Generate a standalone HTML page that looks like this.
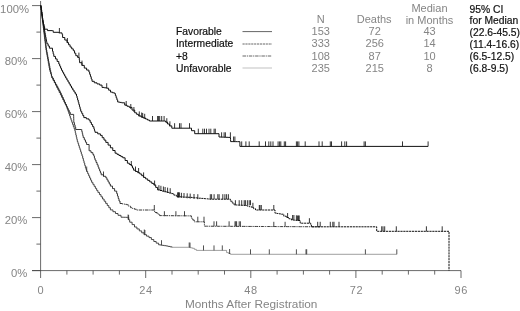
<!DOCTYPE html>
<html><head><meta charset="utf-8"><title>Survival</title>
<style>
html,body{margin:0;padding:0;background:#fff;}
body{width:520px;height:311px;overflow:hidden;position:relative;font-family:"Liberation Sans",sans-serif;}
svg{position:absolute;left:0;top:0;}
.g{fill:#858585;font-size:11px;}
.k{fill:#111;font-size:10.3px;stroke:#111;stroke-width:0.2px;}
</style></head><body>
<svg width="520" height="311" viewBox="0 0 520 311" font-family="Liberation Sans, sans-serif">
<rect width="520" height="311" fill="#fff"/>
<path d="M40.6,1 V270.6 M32,270.6 H461 M32,270.6 H40.6 M36.4,244.1 H40.6 M32,217.6 H40.6 M36.4,191.1 H40.6 M32,164.6 H40.6 M36.4,138.1 H40.6 M32,111.6 H40.6 M36.4,85.1 H40.6 M32,58.6 H40.6 M36.4,32.1 H40.6 M32,5.6 H40.6 M40.6,270.6 V278 M66.9,270.6 V274.6 M93.1,270.6 V274.6 M119.4,270.6 V274.6 M145.7,270.6 V278 M172.0,270.6 V274.6 M198.2,270.6 V274.6 M224.5,270.6 V274.6 M250.8,270.6 V278 M277.1,270.6 V274.6 M303.4,270.6 V274.6 M329.6,270.6 V274.6 M355.9,270.6 V278 M382.2,270.6 V274.6 M408.4,270.6 V274.6 M434.7,270.6 V274.6 M461.0,270.6 V278" stroke="#444" stroke-width="0.8" fill="none"/>
<path d="M40.70,5.60 L40.95,5.60 L40.95,7.82 L41.21,7.82 L41.21,10.04 L41.46,10.04 L41.46,12.25 L41.72,12.25 L41.72,14.47 L41.97,14.47 L41.97,16.69 L42.23,16.69 L42.23,18.91 L42.48,18.91 L42.48,21.13 L42.74,21.13 L42.74,23.35 L42.99,23.35 L42.99,25.56 L43.25,25.56 L43.25,27.78 L43.50,27.78 L43.50,30.00 L43.78,30.00 L43.78,32.22 L44.06,32.22 L44.06,34.44 L44.33,34.44 L44.33,36.67 L44.61,36.67 L44.61,38.89 L44.89,38.89 L44.89,41.11 L45.17,41.11 L45.17,43.33 L45.44,43.33 L45.44,45.56 L45.72,45.56 L45.72,47.78 L46.00,47.78 L46.00,50.00 L46.39,50.00 L46.39,52.22 L46.78,52.22 L46.78,54.44 L47.17,54.44 L47.17,56.67 L47.56,56.67 L47.56,58.89 L47.94,58.89 L47.94,61.11 L48.33,61.11 L48.33,63.33 L48.72,63.33 L48.72,65.56 L49.11,65.56 L49.11,67.78 L49.50,67.78 L49.50,70.00 L50.12,70.00 L50.12,72.00 L50.75,72.00 L50.75,74.00 L51.38,74.00 L51.38,76.00 L52.00,76.00 L52.00,78.00 L53.17,78.00 L53.17,80.14 L54.34,80.14 L54.34,82.29 L55.51,82.29 L55.51,84.43 L56.69,84.43 L56.69,86.57 L57.86,86.57 L57.86,88.71 L59.03,88.71 L59.03,90.86 L60.20,90.86 L60.20,93.00 L61.25,93.00 L61.25,95.32 L62.30,95.32 L62.30,97.63 L63.35,97.63 L63.35,99.95 L64.40,99.95 L64.40,102.27 L65.45,102.27 L65.45,104.58 L66.50,104.58 L66.50,106.90 L67.26,106.90 L67.26,109.14 L68.02,109.14 L68.02,111.38 L68.78,111.38 L68.78,113.62 L69.54,113.62 L69.54,115.86 L70.30,115.86 L70.30,118.10 L71.05,118.10 L71.05,120.20 L71.80,120.20 L71.80,122.30 L72.55,122.30 L72.55,124.40 L73.30,124.40 L73.30,126.50 L74.05,126.50 L74.05,128.60 L74.80,128.60 L74.80,130.70 L75.30,130.70 L75.30,132.86 L75.80,132.86 L75.80,135.02 L76.30,135.02 L76.30,137.18 L76.80,137.18 L76.80,139.34 L77.30,139.34 L77.30,141.50 L77.97,141.50 L77.97,143.57 L78.64,143.57 L78.64,145.64 L79.31,145.64 L79.31,147.71 L79.99,147.71 L79.99,149.79 L80.66,149.79 L80.66,151.86 L81.33,151.86 L81.33,153.93 L82.00,153.93 L82.00,156.00 L82.68,156.00 L82.68,158.36 L83.36,158.36 L83.36,160.72 L84.04,160.72 L84.04,163.08 L84.72,163.08 L84.72,165.44 L85.40,165.44 L85.40,167.80 L86.05,167.80 L86.05,169.65 L86.70,169.65 L86.70,171.50 L87.68,171.50 L87.68,173.66 L88.66,173.66 L88.66,175.82 L89.64,175.82 L89.64,177.98 L90.62,177.98 L90.62,180.14 L91.60,180.14 L91.60,182.30 L92.86,182.30 L92.86,184.32 L94.12,184.32 L94.12,186.34 L95.38,186.34 L95.38,188.36 L96.64,188.36 L96.64,190.38 L97.90,190.38 L97.90,192.40 L99.45,192.40 L99.45,194.60 L101.00,194.60 L101.00,196.80 L102.55,196.80 L102.55,199.00 L104.10,199.00 L104.10,201.20 L105.67,201.20 L105.67,203.38 L107.25,203.38 L107.25,205.55 L108.83,205.55 L108.83,207.72 L110.40,207.72 L110.40,209.90 L112.93,209.90 L112.93,211.70 L115.47,211.70 L115.47,213.50 L118.00,213.50 L118.00,215.30 L121.00,215.30 L121.00,217.20 L123.23,217.20 L123.23,217.27 L125.47,217.27 L125.47,217.33 L127.70,217.33 L127.70,217.40 L128.70,217.40 L128.70,219.80 L129.70,219.80 L129.70,222.20 L132.10,222.20 L132.10,224.60 L134.50,224.60 L134.50,227.00 L136.90,227.00 L136.90,228.95 L139.30,228.95 L139.30,230.90 L141.70,230.90 L141.70,232.80 L144.10,232.80 L144.10,234.70 L146.55,234.70 L146.55,236.15 L149.00,236.15 L149.00,237.60 L151.40,237.60 L151.40,239.55 L153.80,239.55 L153.80,241.50 L156.20,241.50 L156.20,243.15 L158.60,243.15 L158.60,244.80 L160.53,244.80 L160.53,245.10 L162.45,245.10 L162.45,245.40 L164.38,245.40 L164.38,245.70 L166.30,245.70 L166.30,246.00 L168.23,246.00 L168.23,246.43 L170.17,246.43 L170.17,246.87 L172.10,246.87 L172.10,247.30" stroke="#333" stroke-width="0.9" fill="none"/>
<path d="M172.10,247.30 L188.50,247.30 L190.45,247.30 L190.45,247.80 L192.40,247.80 L192.40,248.30 L194.35,248.30 L194.35,249.35 L196.30,249.35 L196.30,250.40 L224.00,250.40 L226.60,250.40 L226.60,252.60 L228.50,252.60 L228.50,253.45 L230.40,253.45 L230.40,254.30 L396.80,254.30" stroke="#777" stroke-width="0.7" fill="none"/>
<path d="M86.7,171.5 v-5.0 M128.1,219.5 v-5.0 M128.6,220.0 v-5.0 M144.3,234.5 v-5.0 M144.9,235.0 v-5.0 M161.5,245.2 v-5.0 M189.2,247.5 v-5.0 M190.0,247.6 v-5.0 M203.5,250.4 v-5.0 M214.0,250.4 v-5.0 M222.3,250.4 v-5.0 M229.6,254.0 v-5.0 M250.5,254.3 v-5.0 M269.3,254.3 v-5.0 M296.4,254.3 v-5.0 M306.0,254.3 v-5.0 M306.7,254.3 v-5.0 M365.4,254.3 v-5.0 M396.8,254.3 v-5.0" stroke="#333" stroke-width="0.85" fill="none"/>
<path d="M40.70,5.60 L40.99,5.60 L40.99,7.83 L41.28,7.83 L41.28,10.05 L41.57,10.05 L41.57,12.28 L41.86,12.28 L41.86,14.51 L42.15,14.51 L42.15,16.74 L42.45,16.74 L42.45,18.96 L42.74,18.96 L42.74,21.19 L43.03,21.19 L43.03,23.42 L43.32,23.42 L43.32,25.65 L43.61,25.65 L43.61,27.87 L43.90,27.87 L43.90,30.10 L44.18,30.10 L44.18,32.33 L44.46,32.33 L44.46,34.57 L44.73,34.57 L44.73,36.80 L45.01,36.80 L45.01,39.03 L45.29,39.03 L45.29,41.27 L45.57,41.27 L45.57,43.50 L45.84,43.50 L45.84,45.73 L46.12,45.73 L46.12,47.97 L46.40,47.97 L46.40,50.20 L46.82,50.20 L46.82,52.43 L47.24,52.43 L47.24,54.67 L47.67,54.67 L47.67,56.90 L48.09,56.90 L48.09,59.13 L48.51,59.13 L48.51,61.37 L48.93,61.37 L48.93,63.60 L49.36,63.60 L49.36,65.83 L49.78,65.83 L49.78,68.07 L50.20,68.07 L50.20,70.30 L50.65,70.30 L50.65,72.22 L51.10,72.22 L51.10,74.15 L51.55,74.15 L51.55,76.08 L52.00,76.08 L52.00,78.00 L53.20,78.00 L53.20,80.40 L54.40,80.40 L54.40,82.80 L55.60,82.80 L55.60,85.20 L56.80,85.20 L56.80,87.60 L58.00,87.60 L58.00,90.00 L59.20,90.00 L59.20,92.40 L60.40,92.40 L60.40,94.80 L61.60,94.80 L61.60,97.20 L62.80,97.20 L62.80,99.60 L64.00,99.60 L64.00,102.00 L65.05,102.00 L65.05,104.07 L66.10,104.07 L66.10,106.13 L67.15,106.13 L67.15,108.20 L68.20,108.20 L68.20,110.27 L69.25,110.27 L69.25,112.33 L70.30,112.33 L70.30,114.40 L73.60,114.40 L73.65,114.40 L73.65,116.45 L73.70,116.45 L73.70,118.50 L73.75,118.50 L73.75,120.55 L73.80,120.55 L73.80,122.60 L74.43,122.60 L74.43,124.90 L75.07,124.90 L75.07,127.20 L75.70,127.20 L75.70,129.50 L81.30,129.50 L81.78,129.50 L81.78,131.53 L82.25,131.53 L82.25,133.55 L82.72,133.55 L82.72,135.57 L83.20,135.57 L83.20,137.60 L84.33,137.60 L84.33,139.90 L85.47,139.90 L85.47,142.20 L86.60,142.20 L86.60,144.50 L89.10,144.50 L89.10,150.80 L91.00,150.80 L91.00,152.65 L92.90,152.65 L92.90,154.50 L93.80,154.50 L93.80,156.00 L94.40,156.00 L94.40,158.05 L95.00,158.05 L95.00,160.10 L96.03,160.10 L96.03,162.43 L97.07,162.43 L97.07,164.77 L98.10,164.77 L98.10,167.10 L98.88,167.10 L98.88,169.03 L99.65,169.03 L99.65,170.95 L100.42,170.95 L100.42,172.88 L101.20,172.88 L101.20,174.80 L103.50,174.80 L103.50,176.30 L105.80,176.30 L105.80,177.80 L106.95,177.80 L106.95,179.88 L108.10,179.88 L108.10,181.95 L109.25,181.95 L109.25,184.03 L110.40,184.03 L110.40,186.10 L112.50,186.10 L112.50,188.60 L114.60,188.60 L114.60,191.10 L116.70,191.10 L116.70,193.60 L117.47,193.60 L117.47,196.07 L118.23,196.07 L118.23,198.53 L119.00,198.53 L119.00,201.00 L120.00,201.00 L120.00,203.50" stroke="#222" stroke-width="0.9" fill="none"/>
<path d="M120.00,203.50 L122.27,203.50 L122.27,203.93 L124.53,203.93 L124.53,204.37 L126.80,204.37 L126.80,204.80 L128.70,204.80 L128.70,206.25 L130.60,206.25 L130.60,207.70 L132.53,207.70 L132.53,208.47 L134.47,208.47 L134.47,209.23 L136.40,209.23 L136.40,210.00 L154.70,210.00 L154.70,212.50 L157.15,212.50 L157.15,214.05 L159.60,214.05 L159.60,215.60 L161.86,215.60 L161.86,215.62 L164.11,215.62 L164.11,215.64 L166.37,215.64 L166.37,215.66 L168.63,215.66 L168.63,215.69 L170.89,215.69 L170.89,215.71 L173.14,215.71 L173.14,215.73 L175.40,215.73 L175.40,215.75 L177.66,215.75 L177.66,215.77 L179.91,215.77 L179.91,215.79 L182.17,215.79 L182.17,215.81 L184.43,215.81 L184.43,215.84 L186.69,215.84 L186.69,215.86 L188.94,215.86 L188.94,215.88 L191.20,215.88 L191.20,215.90 L191.40,215.90 L191.40,218.30 L192.85,218.30 L192.85,220.05 L194.30,220.05 L194.30,221.80 L204.40,221.80 L204.40,226.20 L206.58,226.20 L206.58,226.21 L208.76,226.21 L208.76,226.22 L210.94,226.22 L210.94,226.23 L213.12,226.23 L213.12,226.25 L215.31,226.25 L215.31,226.26 L217.49,226.26 L217.49,226.27 L219.67,226.27 L219.67,226.28 L221.85,226.28 L221.85,226.29 L224.03,226.29 L224.03,226.30 L226.21,226.30 L226.21,226.31 L228.39,226.31 L228.39,226.32 L230.57,226.32 L230.57,226.34 L232.75,226.34 L232.75,226.35 L234.94,226.35 L234.94,226.36 L237.12,226.36 L237.12,226.37 L239.30,226.37 L239.30,226.38 L241.48,226.38 L241.48,226.39 L243.66,226.39 L243.66,226.40 L245.84,226.40 L245.84,226.42 L248.02,226.42 L248.02,226.43 L250.20,226.43 L250.20,226.44 L252.38,226.44 L252.38,226.45 L254.57,226.45 L254.57,226.46 L256.75,226.46 L256.75,226.47 L258.93,226.47 L258.93,226.48 L261.11,226.48 L261.11,226.49 L263.29,226.49 L263.29,226.51 L265.47,226.51 L265.47,226.52 L267.65,226.52 L267.65,226.53 L269.83,226.53 L269.83,226.54 L272.02,226.54 L272.02,226.55 L274.20,226.55 L274.20,226.56 L276.38,226.56 L276.38,226.57 L278.56,226.57 L278.56,226.58 L280.74,226.58 L280.74,226.60 L282.92,226.60 L282.92,226.61 L285.10,226.61 L285.10,226.62 L287.28,226.62 L287.28,226.63 L289.46,226.63 L289.46,226.64 L291.65,226.64 L291.65,226.65 L293.83,226.65 L293.83,226.66 L296.01,226.66 L296.01,226.68 L298.19,226.68 L298.19,226.69 L300.37,226.69 L300.37,226.70 L302.55,226.70 L302.55,226.71 L304.73,226.71 L304.73,226.72 L306.91,226.72 L306.91,226.73 L309.09,226.73 L309.09,226.74 L311.28,226.74 L311.28,226.75 L313.46,226.75 L313.46,226.77 L315.64,226.77 L315.64,226.78 L317.82,226.78 L317.82,226.79 L320.00,226.79 L320.00,226.80" stroke="#222" stroke-width="0.9" fill="none" stroke-dasharray="3.5 0.8 1.2 0.8"/>
<path d="M103.5,176.5 v-5.0 M154.3,210.0 v-5.0 M164.4,216.2 v-5.0 M175.9,216.2 v-5.0 M184.5,216.2 v-5.0 M197.8,221.7 v-5.0 M204.0,221.7 v-5.0 M214.0,226.3 v-5.0 M216.6,226.3 v-5.0 M229.1,226.3 v-5.0 M235.0,226.3 v-5.0 M235.8,226.3 v-5.0 M236.6,226.3 v-5.0 M239.2,226.3 v-5.0 M240.4,226.3 v-5.0 M273.8,226.8 v-5.0 M285.1,226.8 v-5.0" stroke="#222" stroke-width="0.85" fill="none"/>
<path d="M40.70,5.60 L40.99,5.60 L40.99,7.66 L41.27,7.66 L41.27,9.71 L41.56,9.71 L41.56,11.77 L41.84,11.77 L41.84,13.83 L42.13,13.83 L42.13,15.89 L42.41,15.89 L42.41,17.94 L42.70,17.94 L42.70,20.00 L43.06,20.00 L43.06,22.16 L43.41,22.16 L43.41,24.31 L43.77,24.31 L43.77,26.47 L44.13,26.47 L44.13,28.63 L44.49,28.63 L44.49,30.79 L44.84,30.79 L44.84,32.94 L45.20,32.94 L45.20,35.10 L45.62,35.10 L45.62,37.27 L46.05,37.27 L46.05,39.45 L46.48,39.45 L46.48,41.62 L46.90,41.62 L46.90,43.80 L48.15,43.80 L48.15,46.00 L49.40,46.00 L49.40,48.20 L52.50,48.20 L52.50,51.30 L53.15,51.30 L53.15,53.85 L53.80,53.85 L53.80,56.40 L55.47,56.40 L55.47,58.93 L57.13,58.93 L57.13,61.47 L58.80,61.47 L58.80,64.00 L59.70,64.00 L59.70,66.10 L60.60,66.10 L60.60,68.20 L61.50,68.20 L61.50,70.30 L62.55,70.30 L62.55,72.22 L63.60,72.22 L63.60,74.15 L64.65,74.15 L64.65,76.08 L65.70,76.08 L65.70,78.00 L66.86,78.00 L66.86,80.00 L68.02,80.00 L68.02,82.00 L69.18,82.00 L69.18,84.00 L70.34,84.00 L70.34,86.00 L71.50,86.00 L71.50,88.00 L72.75,88.00 L72.75,90.00 L74.00,90.00 L74.00,92.00 L75.25,92.00 L75.25,94.00 L76.50,94.00 L76.50,96.00 L77.05,96.00 L77.05,98.00 L77.60,98.00 L77.60,100.00 L78.22,100.00 L78.22,102.26 L78.84,102.26 L78.84,104.52 L79.46,104.52 L79.46,106.78 L80.08,106.78 L80.08,109.04 L80.70,109.04 L80.70,111.30 L81.73,111.30 L81.73,113.40 L82.77,113.40 L82.77,115.50 L83.80,115.50 L83.80,117.60 L86.35,117.60 L86.35,118.85 L88.90,118.85 L88.90,120.10 L90.15,120.10 L90.15,122.30 L91.40,122.30 L91.40,124.50 L92.65,124.50 L92.65,126.70 L93.90,126.70 L93.90,128.90 L94.45,128.90 L94.45,130.60 L95.00,130.60 L95.00,132.30 L97.70,132.30 L97.70,133.85 L100.40,133.85 L100.40,135.40 L102.20,135.40 L102.20,137.73 L104.00,137.73 L104.00,140.07 L105.80,140.07 L105.80,142.40 L108.10,142.40 L108.10,145.10 L110.40,145.10 L110.40,147.80 L112.75,147.80 L112.75,150.50 L115.10,150.50 L115.10,153.20 L117.02,153.20 L117.02,154.35 L118.95,154.35 L118.95,155.50 L120.88,155.50 L120.88,156.65 L122.80,156.65 L122.80,157.80 L125.10,157.80 L125.10,160.50 L127.40,160.50 L127.40,163.20 L129.35,163.20 L129.35,164.50 L131.30,164.50 L131.30,165.80 L132.45,165.80 L132.45,168.00 L133.60,168.00 L133.60,170.20 L135.67,170.20 L135.67,171.47 L137.73,171.47 L137.73,172.73 L139.80,172.73 L139.80,174.00 L141.70,174.00 L141.70,175.70 L143.60,175.70 L143.60,177.40 L145.64,177.40 L145.64,178.90 L147.68,178.90 L147.68,180.40 L149.72,180.40 L149.72,181.90 L151.76,181.90 L151.76,183.40 L153.80,183.40 L153.80,184.90 L155.70,184.90 L155.70,187.40 L157.60,187.40 L157.60,189.90" stroke="#111" stroke-width="1" fill="none"/>
<path d="M157.60,189.90 L159.90,189.90 L159.90,190.52 L162.20,190.52 L162.20,191.13 L164.50,191.13 L164.50,191.75 L166.80,191.75 L166.80,192.37 L169.10,192.37 L169.10,192.98 L171.40,192.98 L171.40,193.60 L173.90,193.60 L173.90,195.15 L176.40,195.15 L176.40,196.70 L178.67,196.70 L178.67,196.82 L180.93,196.82 L180.93,196.93 L183.20,196.93 L183.20,197.05 L185.47,197.05 L185.47,197.17 L187.73,197.17 L187.73,197.28 L190.00,197.28 L190.00,197.40 L192.22,197.40 L192.22,197.60 L194.44,197.60 L194.44,197.80 L196.67,197.80 L196.67,198.00 L198.89,198.00 L198.89,198.20 L201.11,198.20 L201.11,198.40 L203.33,198.40 L203.33,198.60 L205.56,198.60 L205.56,198.80 L207.78,198.80 L207.78,199.00 L210.00,199.00 L210.00,199.20 L228.00,199.20 L230.40,199.20 L230.40,201.20 L232.25,201.20 L232.25,203.05 L234.10,203.05 L234.10,204.90 L236.28,204.90 L236.28,205.02 L238.46,205.02 L238.46,205.14 L240.64,205.14 L240.64,205.26 L242.82,205.26 L242.82,205.38 L245.00,205.38 L245.00,205.50 L247.23,205.50 L247.23,206.13 L249.47,206.13 L249.47,206.77 L251.70,206.77 L251.70,207.40 L253.60,207.40 L253.60,208.70 L255.50,208.70 L255.50,210.00 L273.80,210.00 L275.00,210.00 L275.00,213.20 L277.10,213.20 L277.10,213.53 L279.20,213.53 L279.20,213.87 L281.30,213.87 L281.30,214.20 L283.80,214.20 L283.80,216.20 L286.30,216.20 L286.30,217.50 L288.85,217.50 L288.85,218.75 L291.40,218.75 L291.40,220.00 L293.60,220.00 L293.60,220.17 L295.80,220.17 L295.80,220.33 L298.00,220.33 L298.00,220.50 L300.20,220.50 L300.20,223.20 L310.00,223.20 L310.70,223.20 L310.70,225.00 L311.40,225.00 L311.40,226.80 L376.70,226.80 L376.70,231.30 L449.00,231.30 L449.00,270.60" stroke="#111" stroke-width="1" fill="none" stroke-dasharray="2.2 0.7"/>
<path d="M131.3,166.0 v-5.0 M135.5,171.5 v-5.0 M138.6,173.0 v-5.0 M143.6,177.4 v-5.0 M154.6,185.5 v-5.0 M158.9,190.2 v-5.0 M160.9,190.8 v-5.0 M163.4,191.5 v-5.0 M165.1,192.0 v-5.0 M167.6,192.6 v-5.0 M170.2,193.2 v-5.0 M177.7,197.4 v-5.0 M178.2,197.4 v-5.0 M178.7,197.4 v-5.0 M179.4,197.4 v-5.0 M181.4,197.8 v-5.0 M184.0,198.0 v-5.0 M187.2,198.3 v-5.0 M190.2,198.6 v-5.0 M194.0,199.0 v-5.0 M197.8,199.2 v-5.0 M210.3,199.2 v-5.0 M211.6,199.2 v-5.0 M214.1,199.2 v-5.0 M217.8,199.2 v-5.0 M219.1,199.2 v-5.0 M222.8,199.2 v-5.0 M224.9,199.2 v-5.0 M226.6,199.2 v-5.0 M228.4,199.2 v-5.0 M235.4,205.2 v-5.0 M239.2,205.2 v-5.0 M241.7,205.2 v-5.0 M244.2,205.2 v-5.0 M245.4,205.2 v-5.0 M247.4,205.2 v-5.0 M249.2,205.2 v-5.0 M250.5,205.2 v-5.0 M252.9,207.8 v-5.0 M259.3,210.0 v-5.0 M260.0,210.0 v-5.0 M261.3,210.0 v-5.0 M273.8,210.0 v-5.0 M287.6,218.0 v-5.0 M292.6,220.0 v-5.0 M293.9,220.0 v-5.0 M296.4,220.3 v-5.0 M297.6,220.5 v-5.0 M298.4,220.5 v-5.0 M299.2,220.5 v-5.0 M309.4,223.2 v-5.0 M317.7,226.8 v-5.0 M320.2,226.8 v-5.0 M330.3,226.8 v-5.0 M332.8,226.8 v-5.0 M334.0,226.8 v-5.0 M339.0,226.8 v-5.0 M381.7,231.3 v-5.0 M383.0,231.3 v-5.0 M384.7,231.3 v-5.0 M396.3,231.3 v-5.0 M426.4,231.3 v-5.0 M442.2,231.3 v-5.0" stroke="#111" stroke-width="0.85" fill="none"/>
<path d="M40.70,5.60 L41.00,5.60 L41.00,7.73 L41.30,7.73 L41.30,9.87 L41.60,9.87 L41.60,12.00 L41.84,12.00 L41.84,14.00 L42.08,14.00 L42.08,16.00 L42.32,16.00 L42.32,18.00 L42.56,18.00 L42.56,20.00 L42.80,20.00 L42.80,22.00 L43.40,22.00 L43.40,24.40 L44.00,24.40 L44.00,26.80 L44.60,26.80 L44.60,29.20 L47.50,29.20 L47.50,29.40 L47.50,30.60 L52.50,30.60 L53.20,30.60 L53.20,32.30 L58.80,32.30 L58.80,32.90 L62.00,32.90 L62.00,34.40 L62.60,34.40 L62.60,37.50 L64.80,37.50 L64.80,40.05 L67.00,40.05 L67.00,42.60 L68.55,42.60 L68.55,44.80 L70.10,44.80 L70.10,47.00 L71.70,47.00 L71.70,48.85 L73.30,48.85 L73.30,50.70 L74.55,50.70 L74.55,53.20 L75.80,53.20 L75.80,55.70 L77.60,55.70 L77.60,57.40 L79.00,57.40 L79.00,57.60 L79.30,57.60 L79.30,60.15 L79.60,60.15 L79.60,62.70 L81.95,62.70 L81.95,65.40 L84.30,65.40 L84.30,68.10 L86.60,68.10 L86.60,70.05 L88.90,70.05 L88.90,72.00 L89.68,72.00 L89.68,74.33 L90.45,74.33 L90.45,76.65 L91.22,76.65 L91.22,78.97 L92.00,78.97 L92.00,81.30 L94.30,81.30 L94.30,82.80 L97.00,82.80 L97.00,83.95 L99.70,83.95 L99.70,85.10 L102.00,85.10 L102.00,87.40 L104.35,87.40 L104.35,87.80 L106.70,87.80 L106.70,88.20 L108.60,88.20 L108.60,90.15 L110.50,90.15 L110.50,92.10 L112.55,92.10 L112.55,92.80 L114.60,92.80 L114.60,93.50 L115.38,93.50 L115.38,95.62 L116.15,95.62 L116.15,97.75 L116.92,97.75 L116.92,99.88 L117.70,99.88 L117.70,102.00 L119.65,102.00 L119.65,102.40 L121.60,102.40 L121.60,102.80 L124.70,102.80 L124.70,105.10 L127.00,105.10 L127.00,106.25 L129.30,106.25 L129.30,107.40 L132.00,107.40 L132.00,110.10 L134.70,110.10 L134.70,112.80 L136.65,112.80 L136.65,114.35 L138.60,114.35 L138.60,115.90 L140.90,115.90 L140.90,116.93 L143.20,116.93 L143.20,117.97 L145.50,117.97 L145.50,119.00 L147.45,119.00 L147.45,120.00 L149.40,120.00 L149.40,121.00 L164.80,121.00 L165.60,121.00 L165.60,122.10 L167.55,122.10 L167.55,124.00 L169.50,124.00 L169.50,125.90 L171.80,125.90 L171.80,128.20 L190.20,128.20 L191.50,128.20 L191.50,130.70 L194.70,130.70 L194.70,133.70 L219.00,133.70 L219.00,137.00 L221.28,137.00 L221.28,137.10 L223.56,137.10 L223.56,137.20 L225.84,137.20 L225.84,137.30 L228.12,137.30 L228.12,137.40 L230.40,137.40 L230.40,137.50 L230.50,137.50 L230.50,139.55 L230.60,139.55 L230.60,141.60 L232.93,141.60 L232.93,141.62 L235.25,141.62 L235.25,141.65 L237.57,141.65 L237.57,141.67 L239.90,141.67 L239.90,141.70 L239.90,146.40 L428.10,146.40" stroke="#111" stroke-width="1" fill="none"/>
<path d="M59.4,33.0 v-5.0 M67.4,43.0 v-5.0 M78.9,57.6 v-5.0 M82.0,65.6 v-5.0 M106.7,88.2 v-5.0 M126.2,106.0 v-5.0 M130.8,109.0 v-5.0 M133.9,112.0 v-5.0 M139.3,116.4 v-5.0 M141.7,117.5 v-5.0 M142.7,118.0 v-5.0 M144.7,118.8 v-5.0 M152.5,121.0 v-5.0 M157.6,121.0 v-5.0 M158.6,121.0 v-5.0 M159.7,121.0 v-5.0 M161.7,121.0 v-5.0 M164.1,121.0 v-5.0 M166.8,123.2 v-5.0 M169.9,126.3 v-5.0 M174.6,128.2 v-5.0 M179.5,128.2 v-5.0 M181.0,128.2 v-5.0 M189.5,128.2 v-5.0 M198.3,133.7 v-5.0 M202.8,133.7 v-5.0 M204.5,133.7 v-5.0 M206.5,133.7 v-5.0 M209.0,133.7 v-5.0 M210.8,133.7 v-5.0 M214.1,133.7 v-5.0 M215.3,133.7 v-5.0 M221.6,137.3 v-5.0 M224.1,137.3 v-5.0 M225.4,137.3 v-5.0 M230.4,137.3 v-5.0 M233.6,141.5 v-5.0 M234.9,141.5 v-5.0 M241.7,146.4 v-5.0 M245.9,146.4 v-5.0 M249.2,146.4 v-5.0 M259.2,146.4 v-5.0 M265.5,146.4 v-5.0 M268.8,146.4 v-5.0 M270.8,146.4 v-5.0 M273.0,146.4 v-5.0 M278.1,146.4 v-5.0 M279.6,146.4 v-5.0 M280.8,146.4 v-5.0 M284.3,146.4 v-5.0 M285.6,146.4 v-5.0 M296.4,146.4 v-5.0 M297.6,146.4 v-5.0 M298.9,146.4 v-5.0 M305.2,146.4 v-5.0 M319.0,146.4 v-5.0 M322.2,146.4 v-5.0 M330.3,146.4 v-5.0 M331.5,146.4 v-5.0 M341.6,146.4 v-5.0 M344.8,146.4 v-5.0 M346.6,146.4 v-5.0 M364.1,146.4 v-5.0 M365.4,146.4 v-5.0 M402.5,146.4 v-5.0 M428.1,146.4 v-5.0" stroke="#111" stroke-width="0.85" fill="none"/>
<!-- legend lines -->
<path d="M242.5,31.6 H272" stroke="#555" stroke-width="0.9"/>
<path d="M242.5,44 H272" stroke="#555" stroke-width="0.9" stroke-dasharray="2.2 0.7"/>
<path d="M242.5,56 H272" stroke="#555" stroke-width="0.9" stroke-dasharray="3.5 0.8 1.2 0.8"/>
<path d="M242.5,68 H272" stroke="#999" stroke-width="0.6"/>
<g class="k">
<text x="176" y="35.1">Favorable</text>
<text x="176" y="47.3">Intermediate</text>
<text x="176" y="59.5">+8</text>
<text x="176" y="71.6">Unfavorable</text>
<text x="469.6" y="12.8">95% CI</text>
<text x="469.6" y="24.4">for Median</text>
<text x="469.6" y="35.9">(22.6-45.5)</text>
<text x="469.6" y="48.1">(11.4-16.6)</text>
<text x="469.6" y="60.3">(6.5-12.5)</text>
<text x="469.6" y="72.3">(6.8-9.5)</text>
</g>
<g class="g" text-anchor="middle">
<text x="320.7" y="23.3">N</text>
<text x="320.7" y="35.3">153</text>
<text x="320.7" y="47.4">333</text>
<text x="320.7" y="59.5">108</text>
<text x="320.7" y="71.5">235</text>
<text x="374.2" y="23.3">Deaths</text>
<text x="374.7" y="35.3">72</text>
<text x="374.7" y="47.4">256</text>
<text x="374.7" y="59.5">87</text>
<text x="374.7" y="71.5">215</text>
<text x="429.5" y="12.4">Median</text>
<text x="429.5" y="23.5">in Months</text>
<text x="429.5" y="35.3">43</text>
<text x="429.5" y="47.4">14</text>
<text x="429.5" y="59.5">10</text>
<text x="429.5" y="71.5">8</text>
<text x="40.6" y="294">0</text>
<text x="145.9" y="294" style="letter-spacing:0.6px">24</text>
<text x="250.9" y="294" style="letter-spacing:0.6px">48</text>
<text x="356.5" y="294" style="letter-spacing:0.6px">72</text>
<text x="461.3" y="294" style="letter-spacing:0.6px">96</text>
<text x="251.2" y="307.6" style="font-size:11.8px">Months After Registration</text>
</g>
<g class="g" text-anchor="end" style="font-size:11.3px">
<text x="29" y="12.8">100%</text>
<text x="27.3" y="64.5">80%</text>
<text x="27.3" y="117.5">60%</text>
<text x="27.3" y="170.5">40%</text>
<text x="27.3" y="223.5">20%</text>
<text x="27.3" y="276.5">0%</text>
</g>
</svg>
</body></html>
